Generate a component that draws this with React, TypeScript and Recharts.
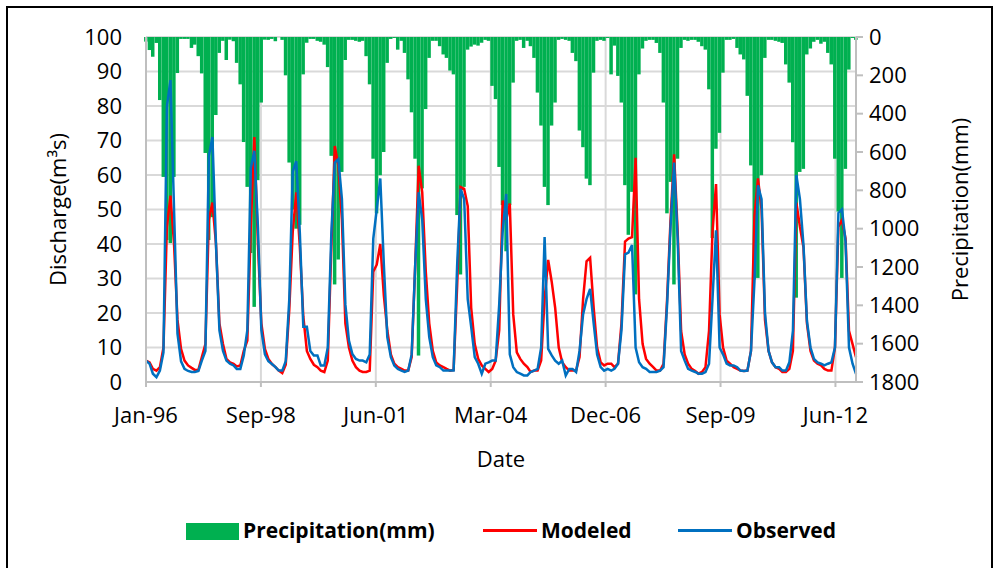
import React from "react";
import { ComposedChart, Bar, Line, XAxis, YAxis, CartesianGrid } from "recharts";

// one row per year, Jan..Dec
const years = [1996, 1997, 1998, 1999, 2000, 2001, 2002, 2003, 2004, 2005, 2006, 2007, 2008, 2009, 2010, 2011, 2012];

// observed discharge (m3/s)
const observed = [
    6.2, 5.3, 2.4, 1.4, 3.3, 8.6, 80, 87.5, 50, 14, 6, 3.8,
    3.2, 2.9, 2.9, 3.2, 6.2, 9, 65.5, 71, 40, 15, 9, 6.2,
    5.3, 4.8, 3.8, 3.8, 7.7, 15, 62, 67, 45, 15, 8, 6,
    5.2, 4.3, 3.3, 3.3, 6, 24, 61, 64, 43, 16, 16, 9,
    7.7, 7.7, 4.8, 4.8, 10, 43, 63.6, 64.6, 53, 22.5, 12, 8.1,
    6.7, 6.2, 6.2, 5.7, 8, 41.6, 50, 59, 34, 13, 7.2, 4.8,
    3.8, 3.3, 2.9, 3.3, 8, 34, 55, 47, 24, 13, 7.2, 4.8,
    4.3, 3.3, 3.3, 3.3, 3.3, 34, 56, 53, 24, 16, 7.2, 5.3,
    2.4, 5.3, 5.7, 6.2, 6.2, 22.5, 43.5, 54.5, 8, 4.3, 2.9, 2.4,
    1.9, 1.9, 2.9, 3.3, 3.8, 10, 42, 9.6, 7.7, 6.2, 5.3, 6.2,
    1.9, 3.8, 3.8, 2.9, 9, 19.6, 24, 27, 17, 8, 4.3, 3.3,
    3.8, 3.3, 3.8, 5.3, 15, 37, 37.5, 39.7, 10, 5.7, 4.3, 3.8,
    2.9, 2.9, 2.9, 3.3, 4.3, 22.5, 45, 63.6, 41.6, 9, 6.2, 3.8,
    3.3, 2.9, 2.4, 2.4, 2.9, 5.3, 24, 44, 10, 8, 5.3, 4.8,
    4.8, 4.3, 3.3, 3.2, 3.3, 9, 29, 57, 53, 20, 9, 5.7,
    4.3, 4.3, 3.3, 3.3, 5.7, 14.8, 60, 53, 39.7, 17.7, 10, 6.7,
    5.7, 5.3, 4.8, 5.3, 5.7, 10, 49, 50, 40.7, 10, 5.3, 2.4
];

// modeled discharge (m3/s)
const modeled = [
    6.2, 5.7, 3.8, 3.3, 4.3, 10, 45, 54, 40, 18, 9.6, 6.2,
    4.8, 4.1, 3.5, 3.5, 7.2, 11, 47, 52, 40, 17, 11, 6.7,
    5.7, 5.3, 4.5, 4.8, 9, 12, 45, 71, 40, 17, 9.6, 6.7,
    5.2, 4.3, 3.3, 2.6, 5, 21, 43.5, 55, 39, 19, 9, 6.7,
    5, 4.3, 3.3, 2.9, 6.2, 39, 68.4, 62.7, 47, 17, 10, 6.2,
    4.3, 3.3, 2.9, 2.9, 3.3, 32, 34, 40, 25, 15, 8, 5.3,
    4.3, 3.8, 3.3, 3.3, 7.2, 34, 62.7, 55, 32, 17, 9, 5.7,
    4.8, 4.3, 3.8, 3.3, 3.5, 28, 56.5, 56, 51, 21.5, 11, 6.7,
    4.8, 3.8, 2.9, 3.8, 6.2, 15, 52.6, 47, 51.7, 19.6, 8.6, 6.7,
    5.3, 4.3, 2.9, 3.3, 3.3, 6.2, 24, 35.4, 29, 21.5, 10, 5.7,
    4.3, 3.3, 3.3, 3.3, 7.2, 24, 35, 36, 21.5, 10, 5.7, 4.8,
    5.3, 5.3, 4.3, 5.3, 17, 40.7, 41.6, 42, 65, 24, 11, 6.7,
    5.3, 4.3, 3.3, 3.3, 5.3, 24, 47, 66, 43.5, 14.8, 8, 5.3,
    3.8, 3.2, 2.4, 2.9, 4.3, 14.8, 43.5, 57.4, 19.6, 10, 6.2, 5.3,
    4.3, 3.8, 3.3, 3.2, 3.3, 9, 48, 59, 50, 18, 9, 5.7,
    4.3, 3.8, 2.9, 2.9, 3.8, 9, 52, 45, 39, 17, 9, 6.2,
    5.3, 4.8, 3.8, 3.3, 3.3, 10, 45, 47, 41.6, 14.8, 11, 7.2
];

// precipitation (mm)
const precipitation = [
    24, 68, 103, 31, 329, 730, 1059, 1075, 730, 188, 10, 10,
    10, 57, 40, 100, 190, 605, 1059, 940, 407, 83, 20, 120,
    14, 22, 135, 247, 548, 782, 1127, 1408, 747, 342, 14, 15,
    10, 22, 0, 15, 200, 655, 900, 1000, 980, 195, 30, 10,
    10, 20, 25, 40, 157, 620, 1291, 1161, 704, 120, 15, 15,
    20, 25, 20, 100, 247, 635, 920, 721, 600, 135, 10, 5,
    66, 20, 83, 221, 393, 635, 1662, 790, 376, 109, 20, 20,
    48, 91, 109, 175, 195, 929, 1239, 782, 66, 50, 40, 45,
    30, 15, 20, 255, 324, 678, 877, 1118, 877, 238, 20, 15,
    57, 20, 48, 109, 290, 462, 782, 877, 462, 342, 15, 10,
    15, 20, 83, 126, 488, 575, 739, 773, 186, 20, 15, 20,
    5, 195, 45, 203, 342, 773, 1032, 808, 1343, 195, 60, 20,
    15, 15, 31, 83, 342, 920, 756, 1291, 635, 57, 15, 20,
    15, 15, 25, 48, 66, 273, 1049, 583, 500, 186, 15, 15,
    10, 57, 91, 117, 307, 670, 1265, 1257, 721, 109, 15, 15,
    20, 25, 31, 143, 238, 549, 1360, 704, 688, 91, 60, 25,
    15, 35, 25, 83, 143, 635, 911, 1257, 688, 170, 5, 15
];

// Excel date axis, major unit 1000 days from 1-Jan-96
const tickDays = [0, 1000, 2000, 3000, 4000, 5000, 6000];
const tickLabels = ["Jan-96", "Sep-98", "Jun-01", "Mar-04", "Dec-06", "Sep-09", "Jun-12"];
const dischargeTicks = [0, 10, 20, 30, 40, 50, 60, 70, 80, 90, 100];
const precipTicks = [0, 200, 400, 600, 800, 1000, 1200, 1400, 1600, 1800];

const DAY_MS = 86400000;
const start = Date.UTC(years[0], 0, 1);

const data: { day: number; observed: number; modeled: number; precipitation: number }[] = [];
years.forEach((y, yi) => {
    for (let m = 0; m < 12; m++) {
        const i = yi * 12 + m;
        data.push({
            day: Math.round((Date.UTC(y, m, 1) - start) / DAY_MS),
            observed: observed[i],
            modeled: modeled[i],
            precipitation: precipitation[i]
        });
    }
});

const font = "'Open Sans', sans-serif";
const tickStyle = { fill: "#000", fontSize: 22, fontFamily: font };
const axisGray = "#bfbfbf";
const green = "#00b050";

// recharts caps the bar at 90% of the month spacing; widen a little so columns nearly touch
const PrecipBar = (props: any) => {
    const x = Number(props.x);
    const y = Number(props.y);
    const w = Number(props.width);
    const h = Number(props.height);
    if (!isFinite(x) || !isFinite(y) || !isFinite(w) || !isFinite(h) || h === 0) return <g />;
    const top = h < 0 ? y + h : y;
    return <rect x={x - 0.3} y={top} width={Math.abs(w) + 0.6} height={Math.abs(h)} fill={green} />;
};

const legendText: React.CSSProperties = {
    position: "absolute",
    top: 516,
    fontFamily: font,
    fontWeight: 700,
    fontSize: 21,
    lineHeight: "29px",
    color: "#000",
    whiteSpace: "nowrap"
};

const App = () => {
    return (
        <div
            style={{
                position: "fixed",
                left: 0,
                top: 0,
                width: 1001,
                height: 568,
                background: "#fff",
                overflow: "hidden"
            }}
        >
            <div
                style={{
                    position: "absolute",
                    left: 6,
                    top: 6,
                    width: 983,
                    height: 620,
                    border: "2px solid #000"
                }}
            />
            <div style={{ position: "absolute", left: 0, top: 0 }}>
                <ComposedChart
                    width={1001}
                    height={568}
                    data={data}
                    margin={{ top: 37, right: 0, bottom: 93, left: 0 }}
                >
                    <CartesianGrid
                        xAxisId="d"
                        yAxisId="q"
                        stroke="#d9d9d9"
                        strokeWidth={2}
                    />
                    <XAxis
                        xAxisId="d"
                        dataKey="day"
                        type="number"
                        domain={["dataMin", "dataMax"]}
                        ticks={tickDays}
                        tickFormatter={(v: number) => tickLabels[tickDays.indexOf(v)]}
                        axisLine={{ stroke: axisGray, strokeWidth: 2 }}
                        tickLine={{ stroke: axisGray, strokeWidth: 2 }}
                        tickSize={5}
                        tickMargin={20}
                        tick={tickStyle}
                        height={93}
                        label={{
                            value: "Date",
                            position: "insideBottom",
                            offset: 8,
                            style: { fill: "#000", fontSize: 22, fontFamily: font }
                        }}
                    />
                    <YAxis
                        yAxisId="q"
                        domain={[0, 100]}
                        ticks={dischargeTicks}
                        interval={0}
                        width={146}
                        axisLine={{ stroke: axisGray, strokeWidth: 2 }}
                        tickLine={false}
                        tickSize={0}
                        tickMargin={24}
                        tick={tickStyle}
                        label={{
                            value: "Discharge(m³s)",
                            angle: -90,
                            position: "insideLeft",
                            offset: 58,
                            style: { fill: "#000", fontSize: 22, fontFamily: font, textAnchor: "middle" }
                        }}
                    />
                    <YAxis
                        yAxisId="p"
                        orientation="right"
                        reversed
                        domain={[0, 1800]}
                        ticks={precipTicks}
                        interval={0}
                        width={145}
                        axisLine={{ stroke: axisGray, strokeWidth: 2 }}
                        tickLine={{ stroke: axisGray, strokeWidth: 2 }}
                        tickSize={7}
                        tickMargin={6}
                        tick={tickStyle}
                        label={{
                            value: "Precipitation(mm)",
                            angle: -90,
                            position: "insideRight",
                            offset: 41,
                            style: { fill: "#000", fontSize: 22, fontFamily: font, textAnchor: "middle" }
                        }}
                    />
                    <Bar
                        xAxisId="d"
                        yAxisId="p"
                        dataKey="precipitation"
                        fill={green}
                        barSize={4}
                        shape={PrecipBar}
                        isAnimationActive={false}
                    />
                    <Line
                        xAxisId="d"
                        yAxisId="q"
                        type="linear"
                        dataKey="modeled"
                        stroke="#ff0000"
                        strokeWidth={2.5}
                        dot={false}
                        isAnimationActive={false}
                    />
                    <Line
                        xAxisId="d"
                        yAxisId="q"
                        type="linear"
                        dataKey="observed"
                        stroke="#0070c0"
                        strokeWidth={2.5}
                        dot={false}
                        isAnimationActive={false}
                    />
                </ComposedChart>
            </div>

            {/* legend */}
            <div style={{ position: "absolute", left: 186, top: 523, width: 53, height: 17, background: green }} />
            <div style={{ ...legendText, left: 243 }}>Precipitation(mm)</div>
            <div style={{ position: "absolute", left: 483, top: 529, width: 54, height: 3, background: "#ff0000" }} />
            <div style={{ ...legendText, left: 541 }}>Modeled</div>
            <div style={{ position: "absolute", left: 678, top: 529, width: 54, height: 3, background: "#0070c0" }} />
            <div style={{ ...legendText, left: 736 }}>Observed</div>
        </div>
    );
};

export default App;
